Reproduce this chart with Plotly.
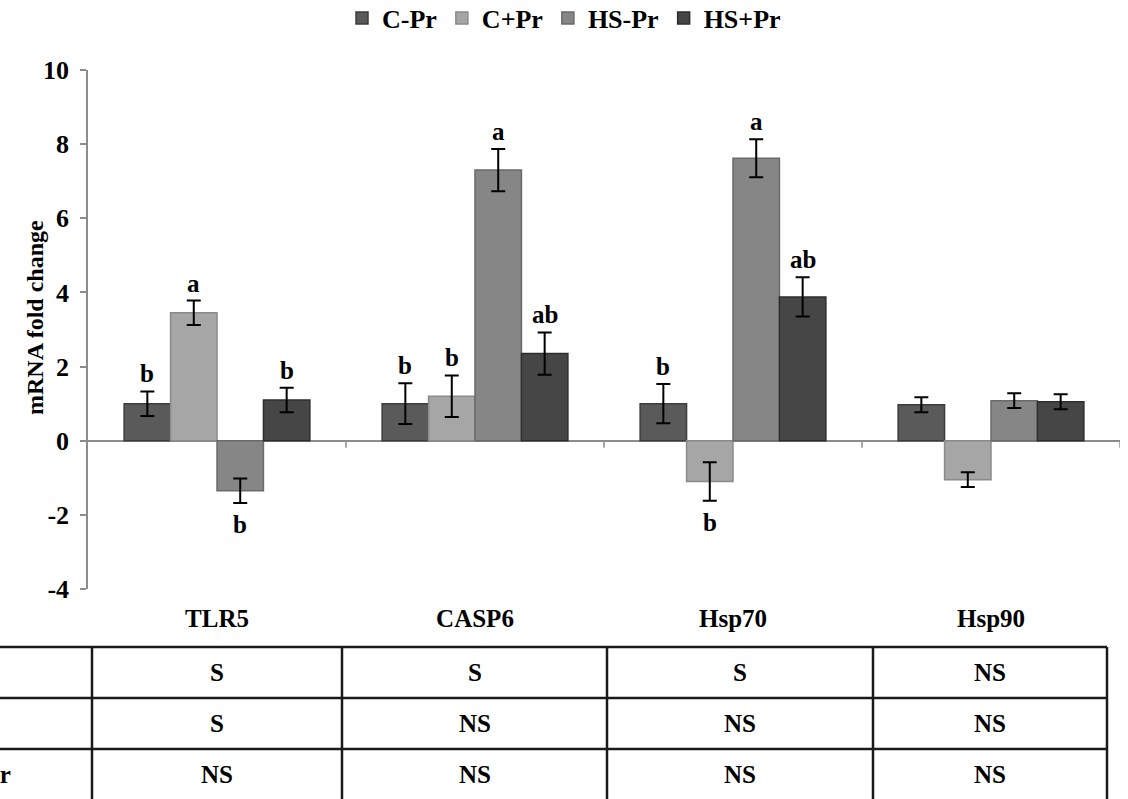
import plotly.graph_objects as go

genes = ["TLR5", "CASP6", "Hsp70", "Hsp90"]
series = ["C-Pr", "C+Pr", "HS-Pr", "HS+Pr"]
colors = ["#5a5a5a", "#a6a6a6", "#868686", "#464646"]
edge_colors = ["#3c3c3c", "#8a8a8a", "#6a6a6a", "#2e2e2e"]

c_minus_pr = [1.0, 1.0, 1.0, 0.97]
c_plus_pr = [3.45, 1.2, -1.1, -1.05]
hs_minus_pr = [-1.35, 7.3, 7.62, 1.08]
hs_plus_pr = [1.1, 2.35, 3.88, 1.05]

err_c_minus = [0.33, 0.55, 0.53, 0.2]
err_c_plus = [0.33, 0.56, 0.52, 0.2]
err_hs_minus = [0.33, 0.57, 0.51, 0.2]
err_hs_plus = [0.33, 0.57, 0.53, 0.2]

letters_c_minus = ["b", "b", "b", ""]
letters_c_plus = ["a", "b", "b", ""]
letters_hs_minus = ["b", "a", "a", ""]
letters_hs_plus = ["b", "ab", "ab", ""]

y_tickvals = [-4, -2, 0, 2, 4, 6, 8, 10]
y_ticktext = ["-4", "-2", "0", "2", "4", "6", "8", "10"]

table_rows = ["HS", "Pr", "HS×Pr"]
table_hs = ["S", "S", "S", "NS"]
table_pr = ["S", "NS", "NS", "NS"]
table_int = ["NS", "NS", "NS", "NS"]

values = [c_minus_pr, c_plus_pr, hs_minus_pr, hs_plus_pr]
errors = [err_c_minus, err_c_plus, err_hs_minus, err_hs_plus]
letters = [letters_c_minus, letters_c_plus, letters_hs_minus, letters_hs_plus]

FONT = "Liberation Serif"
W, H = 1128, 799
L, R, T, B = 88, 8, 70, 210
pw, ph = W - L - R, H - T - B

def px_x(px):
    return (px - L) / pw

def px_y(py):
    return (H - B - py) / ph

bargap = 0.28
bw = (1 - bargap) / len(series)

fig = go.Figure()
x_idx = list(range(len(genes)))
for j, name in enumerate(series):
    fig.add_trace(go.Bar(
        x=x_idx, y=values[j], name=name,
        marker=dict(color=colors[j], line=dict(color=edge_colors[j], width=1.5)),
        error_y=dict(type="data", array=errors[j], color="black", thickness=2, width=7),
    ))

annotations = []
for j in range(len(series)):
    for i in range(len(genes)):
        lab = letters[j][i]
        if not lab:
            continue
        v, e = values[j][i], errors[j][i]
        xpos = i + (j - (len(series) - 1) / 2) * bw
        if v >= 0:
            annotations.append(dict(x=xpos, y=v + e, xref="x", yref="y", text=lab, showarrow=False,
                                    yanchor="bottom", yshift=2,
                                    font=dict(family=FONT, size=25, color="black", weight="bold")))
        else:
            annotations.append(dict(x=xpos, y=v - e, xref="x", yref="y", text=lab, showarrow=False,
                                    yanchor="top", yshift=-6,
                                    font=dict(family=FONT, size=25, color="black", weight="bold")))

# y-axis title
annotations.append(dict(x=px_x(35), y=px_y(318), xref="paper", yref="paper", text="mRNA fold change",
                        textangle=-90, showarrow=False, xanchor="center", yanchor="middle",
                        font=dict(family=FONT, size=24, color="black", weight="bold")))

# table
col_edges = [92, 342, 607, 873, 1107]
row_edges = [647, 698, 749, 800]
shapes = []
for yy in row_edges[:3]:
    shapes.append(dict(type="line", xref="paper", yref="paper", x0=px_x(0), x1=px_x(col_edges[-1]),
                       y0=px_y(yy), y1=px_y(yy), line=dict(color="#1a1a1a", width=2.5)))
for xx in col_edges:
    shapes.append(dict(type="line", xref="paper", yref="paper", x0=px_x(xx), x1=px_x(xx),
                       y0=px_y(row_edges[0]), y1=px_y(row_edges[-1]), line=dict(color="#1a1a1a", width=2.5)))
table_vals = [table_hs, table_pr, table_int]
for r in range(3):
    yc = (row_edges[r] + row_edges[r + 1]) / 2
    for c in range(4):
        xc = (col_edges[c] + col_edges[c + 1]) / 2
        annotations.append(dict(x=px_x(xc), y=px_y(yc), xref="paper", yref="paper", text=table_vals[r][c],
                                showarrow=False, xanchor="center", yanchor="middle",
                                font=dict(family=FONT, size=25, color="black", weight="bold")))
# row label of interaction row, mostly cut off at the left edge as in the original
annotations.append(dict(x=px_x(13), y=px_y((row_edges[2] + row_edges[3]) / 2), xref="paper", yref="paper",
                        text=table_rows[2], showarrow=False, xanchor="right", yanchor="middle",
                        font=dict(family=FONT, size=25, color="black", weight="bold")))

# category separator ticks on the zero line
for k in range(len(genes)):
    shapes.append(dict(type="line", xref="x", yref="y", x0=k + 0.5, x1=k + 0.5, y0=0, y1=-0.19,
                       line=dict(color="#8c8c8c", width=1.5)))

fig.update_layout(
    width=W, height=H,
    margin=dict(l=L, r=R, t=T, b=B),
    paper_bgcolor="white", plot_bgcolor="white",
    barmode="group", bargap=bargap, bargroupgap=0,
    showlegend=True,
    legend=dict(orientation="h", x=0.5, xref="container", xanchor="center",
                y=1 - 18 / H, yref="container", yanchor="middle",
                font=dict(family=FONT, size=26, color="black", weight="bold"),
                itemwidth=30, tracegroupgap=0),
    xaxis=dict(range=[-0.5, 3.5], tickmode="array", tickvals=x_idx, ticktext=genes,
               showline=False, showgrid=False, zeroline=False, ticks="", ticklabelstandoff=12,
               automargin=False,
               tickfont=dict(family=FONT, size=25, color="black", weight="bold")),
    yaxis=dict(range=[-4, 10], tickmode="array", tickvals=y_tickvals, ticktext=y_ticktext,
               showgrid=False, showline=True, linecolor="#8c8c8c",
               linewidth=1.5, ticks="outside", ticklen=6, tickcolor="#8c8c8c", tickwidth=1.5,
               zeroline=True, zerolinecolor="#8c8c8c", zerolinewidth=1.5, ticklabelstandoff=6,
               automargin=False,
               tickfont=dict(family=FONT, size=26, color="black", weight="bold")),
    annotations=annotations,
    shapes=shapes,
)

fig.write_html("out.html", config={"displayModeBar": False},
               post_script="document.body.style.margin='0px';")
